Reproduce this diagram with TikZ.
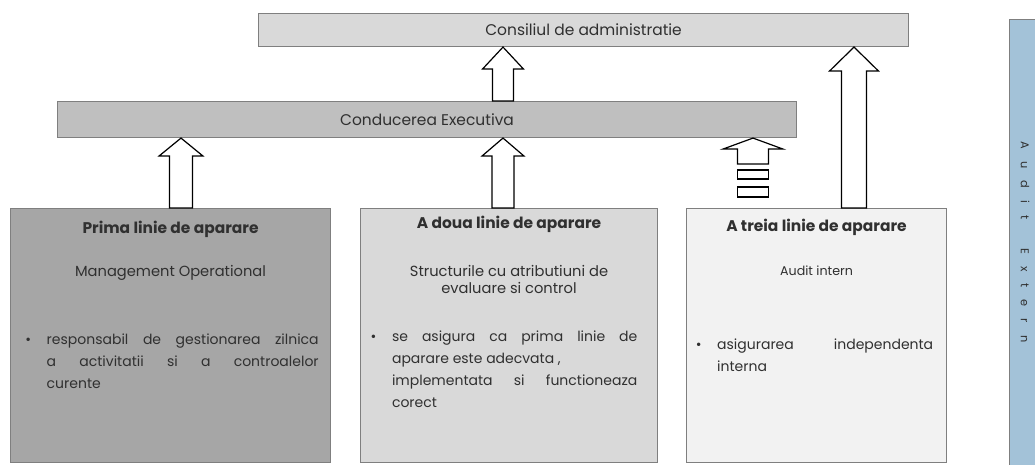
\documentclass[tikz,border=0pt]{standalone}
\usepackage{fontspec}
\setmainfont{Poppins}
\usetikzlibrary{calc,positioning}

\definecolor{boardgray}{HTML}{D9D9D9}
\definecolor{execgray}{HTML}{BFBFBF}
\definecolor{firstgray}{HTML}{A6A6A6}
\definecolor{secondgray}{HTML}{D9D9D9}
\definecolor{thirdgray}{HTML}{F2F2F2}
\definecolor{auditblue}{HTML}{A3C2D8}
\definecolor{framegray}{HTML}{7F7F7F}
\definecolor{inkgray}{HTML}{303030}

% hollow block arrow: x, lower node, upper node, shaft half width, head half width, head height
\newcommand{\blockarrow}[6]{%
  \coordinate (arrbase) at (#1,0 |- #2.north);
  \coordinate (arrtip) at (#1,0 |- #3.south);
  \draw[hollow] ($(arrbase)+(-#4,0)$) -- ($(arrtip)+(-#4,#6)$) -- ($(arrtip)+(-#5,#6)$)
    -- (arrtip) -- ($(arrtip)+(#5,#6)$) -- ($(arrtip)+(#4,#6)$) -- ($(arrbase)+(#4,0)$) -- cycle;}
\newcommand{\bulletline}{\hyphenpenalty=10000\hangindent=16pt\hangafter=1\noindent\makebox[16pt][l]{\textbullet}}
\newcommand{\spaced}[1]{\hspace{9pt}#1}

\begin{document}
\begin{tikzpicture}[
  x=0.75pt, y=-0.75pt,
  hollow/.style={draw=black, fill=white, line width=0.9pt, line join=miter},
  bar/.style={draw=framegray, line width=0.8pt, inner sep=0pt, anchor=north west,
              text=inkgray, font=\fontsize{11.6}{13}\selectfont},
  panel/.style={draw=framegray, line width=0.8pt, inner sep=0pt, anchor=north west,
                minimum height=190.5pt},
  headline/.style={font=\bfseries\fontsize{11.6}{13}\selectfont, text=inkgray, inner sep=0pt},
  subline/.style={font=\fontsize{11}{12.75}\selectfont, text=inkgray, inner sep=0pt, align=center},
  itemtext/.style={font=\fontsize{10.5}{16.5}\selectfont, text=inkgray, inner sep=0pt,
                   align=justify, anchor=north}
]
\useasboundingbox (0,0) rectangle (1035,464);

% ---------- top bars ----------
\node[bar, fill=boardgray, minimum width=487.5pt, minimum height=24.75pt] (board) at (258,13)
  {Consiliul de administratie};
\node[bar, fill=execgray, minimum width=554.25pt, minimum height=27pt] (exec) at (57,101)
  {Conducerea Executiva};

% ---------- three lines of defence ----------
\node[panel, fill=firstgray, minimum width=240pt] (first) at (10,208) {};
\node[panel, fill=secondgray, minimum width=222.75pt] (second) at (360,208) {};
\node[panel, fill=thirdgray, minimum width=195pt] (third) at (686,208) {};

\node[headline] (firsthead) at ($(first.north)+(0,21)$) {Prima linie de aparare};
\node[subline] (firstsub) at ($(first.north)+(0,65)$) {Management Operational};
\node[itemtext, text width=220pt] (firstitem) at ($(first.north)+(1.5,126)$)
  {\bulletline responsabil de gestionarea zilnica\linebreak a activitatii si a controalelor\linebreak curente\par};

\node[headline] (secondhead) at ($(second.north)+(0,16)$) {A doua linie de aparare};
\node[subline] (secondsub) at ($(second.north)+(0,71)$)
  {Structurile cu atributiuni de\\evaluare si control};
\node[itemtext, text width=200pt] (seconditem) at ($(second.north)+(-5,123)$)
  {\bulletline se asigura ca prima linie de\linebreak aparare este adecvata ,\newline
   implementata si functioneaza\linebreak corect\par};

\node[headline] (thirdhead) at ($(third.north)+(0,19)$) {A treia linie de aparare};
\node[subline, font=\fontsize{9.5}{11}\selectfont] (thirdsub) at ($(third.north)+(0,63)$) {Audit intern};
\node[itemtext, text width=178pt] (thirditem) at ($(third.north)+(-2,131)$)
  {\bulletline asigurarea independenta\linebreak interna\par};

% ---------- external audit ----------
\node[draw=framegray, line width=0.8pt, fill=auditblue, inner sep=0pt, anchor=north west,
      minimum width=27pt, minimum height=338.25pt] (audit) at (1009,19) {};
\node[rotate=-90, font=\fontsize{8.5}{9}\selectfont, text=inkgray] (audittext)
  at ($(audit.west)+(16,-3)$)
  {A\spaced{u}\spaced{d}\spaced{i}\spaced{t}\hspace{22pt}E\spaced{x}\spaced{t}\spaced{e}\spaced{r}\spaced{n}};

% ---------- arrows ----------
\blockarrow{181}{first}{exec}{11.5}{22}{18}
\blockarrow{503}{second}{exec}{11}{21}{18}
\blockarrow{503}{exec}{board}{10.5}{20.5}{22}
\blockarrow{854}{third}{board}{12.5}{24.5}{24}

% dashed-off arrow towards the executive bar
\coordinate (striptip) at (753,0 |- exec.south);
\draw[hollow] ($(striptip)+(-15.5,26)$) -- ($(striptip)+(-15.5,11)$) -- ($(striptip)+(-30,11)$)
  -- (striptip) -- ($(striptip)+(30,11)$) -- ($(striptip)+(15.5,11)$) -- ($(striptip)+(15.5,26)$) -- cycle;
\draw[hollow] ($(striptip)+(-15.5,32)$) rectangle ($(striptip)+(15.5,41)$);
\draw[hollow] ($(striptip)+(-15.5,49)$) rectangle ($(striptip)+(15.5,59)$);
\end{tikzpicture}
\end{document}
